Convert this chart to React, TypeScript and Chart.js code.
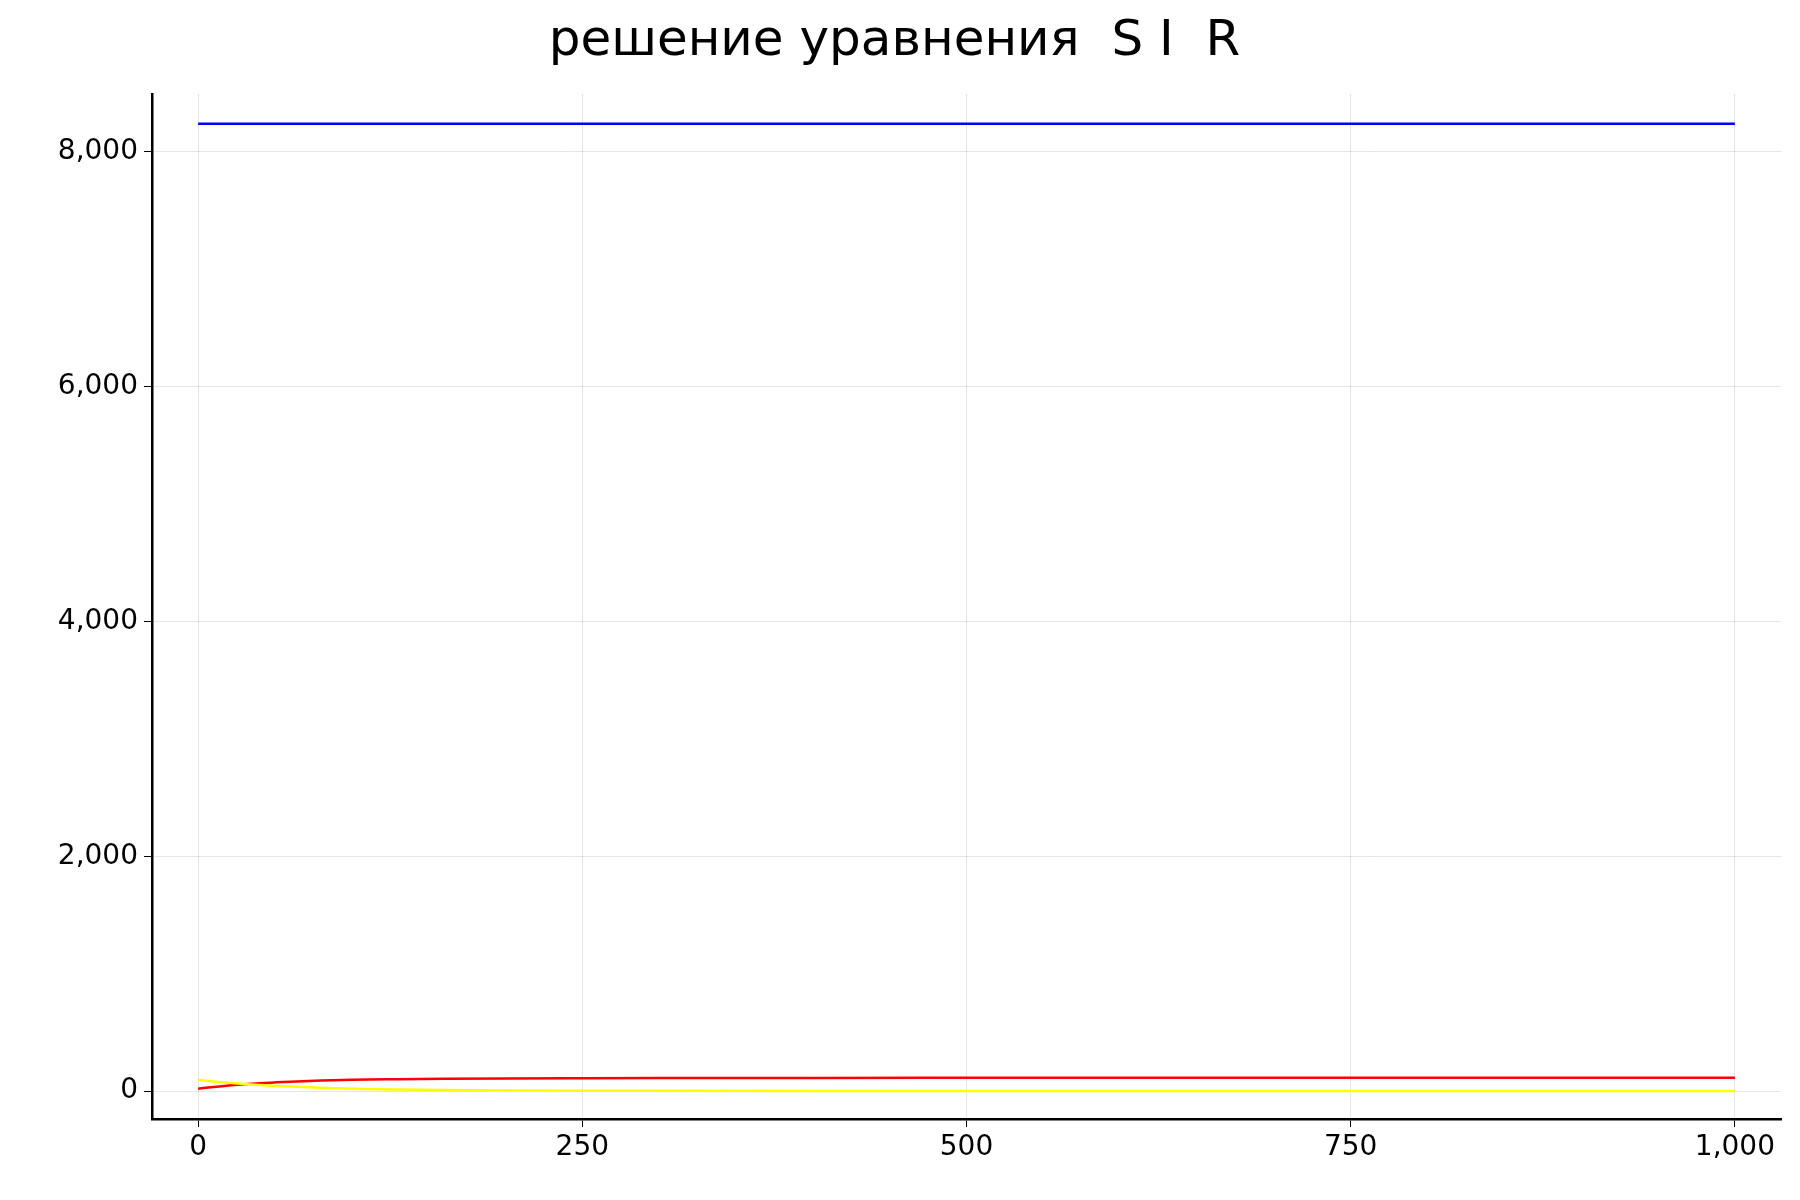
import { useEffect, useRef } from 'react';
import Chart from 'chart.js/auto';

const times = [0, 10, 20, 30, 40, 50, 60, 80, 100, 130, 160, 200, 250, 300, 400, 500, 600, 700, 800, 900, 1000];
const susceptible = [8240, 8240, 8240, 8240, 8240, 8240, 8240, 8240, 8240, 8240, 8240, 8240, 8240, 8240, 8240, 8240, 8240, 8240, 8240, 8240, 8240];
const infected = [95, 82, 70, 60, 52, 44, 38, 28, 20, 13, 8, 5, 3, 2, 1, 0, 0, 0, 0, 0, 0];
const recovered = [20, 35, 48, 58, 67, 74, 80, 89, 96, 101, 105, 108, 110, 111, 112, 113, 113, 113, 113, 113, 113];
const xTicks = [0, 250, 500, 750, 1000];
const yTicks = [0, 2000, 4000, 6000, 8000];

export default function App() {
  const chartRef = useRef<HTMLCanvasElement>(null);

  useEffect(() => {
    if (!chartRef.current) return;
    const pts = (ys: number[]) => times.map((t, i) => ({ x: t, y: ys[i] }));
    const tickFont = { family: 'DejaVu Sans', size: 28 };
    const chart = new Chart(chartRef.current, {
      type: 'line',
      data: {
        datasets: [
          { data: pts(susceptible), borderColor: '#0000ff' },
          { data: pts(infected), borderColor: '#ffff00' },
          { data: pts(recovered), borderColor: '#ff0000' },
        ].map((d) => ({ ...d, borderWidth: 2.5, pointRadius: 0, tension: 0.4, cubicInterpolationMode: 'monotone' as const })),
      },
      options: {
        animation: false,
        responsive: false,
        layout: { padding: { right: 11, top: 0 } },
        plugins: {
          legend: { display: false },
          tooltip: { enabled: false },
          title: {
            display: true,
            text: 'решение уравнения  S I  R',
            color: '#000',
            font: { family: 'DejaVu Sans', size: 50, weight: 'normal' },
            padding: { top: 4, bottom: 22 },
          },
        },
        scales: {
          x: {
            type: 'linear',
            min: -30,
            max: 1030,
            afterBuildTicks: (ax) => { ax.ticks = xTicks.map((v) => ({ value: v })); },
            afterFit: (ax) => { ax.height = 73; },
            ticks: { color: '#000', font: tickFont, maxRotation: 0, padding: 4 },
            grid: { color: 'rgba(0,0,0,0.1)', tickColor: '#000', tickLength: 8 },
            border: { color: '#000', width: 2.5 },
          },
          y: {
            min: -238,
            max: 8493,
            afterBuildTicks: (ax) => { ax.ticks = yTicks.map((v) => ({ value: v })); },
            afterFit: (ax) => { ax.width = 144; },
            ticks: { color: '#000', font: tickFont, padding: 6 },
            grid: { color: 'rgba(0,0,0,0.1)', tickColor: '#000', tickLength: 8 },
            border: { color: '#000', width: 2.5 },
          },
        },
      },
    });
    return () => chart.destroy();
  }, []);

  return <canvas ref={chartRef} width={1784} height={1184} />;
}
